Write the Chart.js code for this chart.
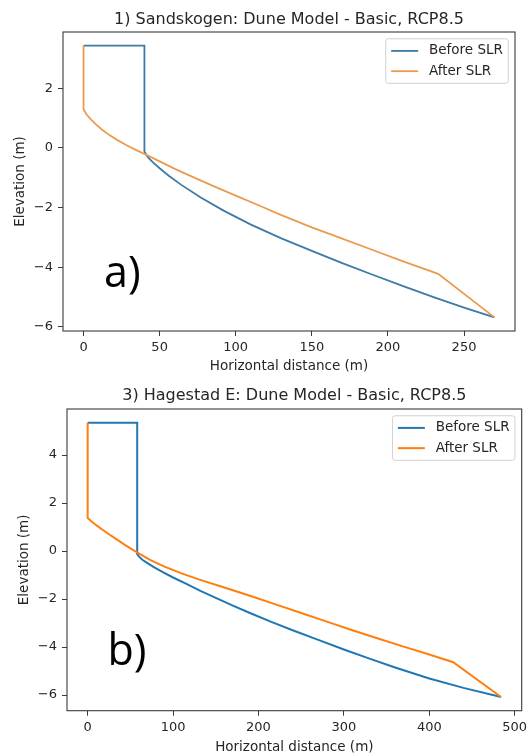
<!DOCTYPE html>
<html><head><meta charset="utf-8">
<script src="https://cdn.jsdelivr.net/npm/chart.js@4/dist/chart.umd.min.js"></script>
<style>
html,body{margin:0;padding:0;background:#fff;}
#wrap{position:relative;width:532px;height:756px;overflow:hidden;background:#fff;}
canvas{position:absolute;left:0;}
</style></head><body>
<div id="wrap">
<canvas id="cA" width="532" height="376" style="top:0px"></canvas>
<canvas id="cB" width="532" height="380" style="top:376px"></canvas>
</div>
<script>
// ---------- data ----------
const seriesLabels = ['Before SLR', 'After SLR'];

const titleA = '1) Sandskogen: Dune Model - Basic, RCP8.5';
const xTicksA = [0, 50, 100, 150, 200, 250];
const yTicksA = [-6, -4, -2, 0, 2];
const beforeA_x = [0, 40, 40, 41, 43, 46, 50, 56, 64, 77, 92, 110, 130, 150, 170, 190, 210, 230, 250, 270];
const beforeA_y = [3.43, 3.43, -0.12, -0.22, -0.35, -0.5, -0.68, -0.93, -1.23, -1.66, -2.1, -2.57, -3.03, -3.45, -3.86, -4.25, -4.63, -5.0, -5.35, -5.68];
const afterA_x = [0, 0, 2, 5, 8, 12, 17, 22, 28, 35, 42, 50, 60, 72, 85, 100, 115, 130, 150, 170, 190, 210, 233, 270];
const afterA_y = [3.43, 1.3, 1.12, 0.95, 0.8, 0.62, 0.43, 0.27, 0.1, -0.08, -0.25, -0.45, -0.7, -0.98, -1.27, -1.6, -1.92, -2.25, -2.66, -3.04, -3.42, -3.8, -4.22, -5.68];

const titleB = '3) Hagestad E: Dune Model - Basic, RCP8.5';
const xTicksB = [0, 100, 200, 300, 400, 500];
const yTicksB = [-6, -4, -2, 0, 2, 4];
const beforeB_x = [0, 58, 58, 60, 64, 70, 78, 88, 100, 115, 132, 150, 170, 190, 215, 240, 270, 300, 330, 360, 400, 440, 484];
const beforeB_y = [5.35, 5.35, -0.13, -0.22, -0.36, -0.5, -0.68, -0.88, -1.1, -1.36, -1.66, -1.95, -2.27, -2.58, -2.95, -3.3, -3.7, -4.1, -4.48, -4.85, -5.31, -5.7, -6.08];
const afterB_x = [0, 0, 5, 10, 17, 25, 34, 44, 53, 62, 73, 90, 110, 130, 160, 190, 220, 250, 280, 310, 340, 370, 400, 428, 484];
const afterB_y = [5.35, 1.38, 1.22, 1.08, 0.9, 0.7, 0.49, 0.25, 0.05, -0.14, -0.37, -0.65, -0.93, -1.18, -1.52, -1.86, -2.22, -2.58, -2.94, -3.3, -3.64, -3.98, -4.31, -4.63, -6.08];

// ---------- helpers ----------
const FONT = '"DejaVu Sans", sans-serif';
const TXT = '#262626';
const pts = (xs, ys) => xs.map((x, i) => ({x: x, y: ys[i]}));
const minus = v => (v < 0 ? '\u2212' : '') + Math.abs(v);
function range(arrs, m) {
  const all = [].concat(...arrs);
  const lo = Math.min(...all), hi = Math.max(...all), d = hi - lo;
  return [lo - m * d, hi + m * d];
}

const framePlugin = {
  id: 'mplFrame',
  afterDatasetsDraw(chart, args, opts) {
    const a = chart.chartArea, ctx = chart.ctx;
    ctx.save();
    ctx.strokeStyle = '#3a3a3a';
    ctx.lineWidth = 1.1;
    ctx.strokeRect(a.left, a.top, a.right - a.left, a.bottom - a.top);
    if (opts && opts.title) {
      ctx.font = '16px ' + FONT;
      ctx.fillStyle = TXT;
      ctx.textAlign = 'center';
      ctx.textBaseline = 'middle';
      ctx.fillText(opts.title, (a.left + a.right) / 2, a.top - opts.dy);
    }
    ctx.restore();
  }
};

const legendPlugin = {
  id: 'mplLegend',
  afterDraw(chart) {
    const a = chart.chartArea, ctx = chart.ctx;
    const fs = 13.5;
    const ds = chart.data.datasets;
    ctx.save();
    ctx.font = fs + 'px ' + FONT;
    const tw = Math.max(...ds.map(d => ctx.measureText(d.label).width));
    const pad = 0.4 * fs, hl = 2 * fs, htp = 0.8 * fs, rowH = fs, ls = 0.5 * fs;
    const w = pad + hl + htp + tw + pad;
    const h = 2 * pad + ds.length * rowH + (ds.length - 1) * ls;
    const x0 = a.right - 0.5 * fs - w, y0 = a.top + 0.5 * fs;
    const r = 0.2 * fs;
    ctx.beginPath();
    ctx.moveTo(x0 + r, y0);
    ctx.lineTo(x0 + w - r, y0); ctx.quadraticCurveTo(x0 + w, y0, x0 + w, y0 + r);
    ctx.lineTo(x0 + w, y0 + h - r); ctx.quadraticCurveTo(x0 + w, y0 + h, x0 + w - r, y0 + h);
    ctx.lineTo(x0 + r, y0 + h); ctx.quadraticCurveTo(x0, y0 + h, x0, y0 + h - r);
    ctx.lineTo(x0, y0 + r); ctx.quadraticCurveTo(x0, y0, x0 + r, y0);
    ctx.closePath();
    ctx.fillStyle = 'rgba(255,255,255,0.8)';
    ctx.fill();
    ctx.strokeStyle = '#d0d0d0';
    ctx.lineWidth = 1;
    ctx.stroke();
    ds.forEach((d, i) => {
      const cy = y0 + pad + rowH / 2 + i * (rowH + ls);
      ctx.strokeStyle = d.borderColor;
      ctx.lineWidth = d.borderWidth;
      ctx.beginPath();
      ctx.moveTo(x0 + pad, cy); ctx.lineTo(x0 + pad + hl, cy);
      ctx.stroke();
      ctx.fillStyle = TXT;
      ctx.textBaseline = 'middle';
      ctx.textAlign = 'left';
      ctx.fillText(d.label, x0 + pad + hl + htp, cy);
    });
    ctx.restore();
  }
};

const panelPlugin = {
  id: 'panelLabel',
  afterDraw(chart, args, opts) {
    if (!opts || !opts.text) return;
    const ctx = chart.ctx;
    ctx.save();
    ctx.font = '43px "Open Sans", "Noto Sans", sans-serif';
    ctx.fillStyle = '#000';
    ctx.textAlign = 'left';
    ctx.textBaseline = 'alphabetic';
    ctx.fillText(opts.text, opts.x, opts.y);
    ctx.restore();
  }
};

function makeChart(id, cfg) {
  const xr = range([cfg.bx, cfg.ax], 0.05);
  const yr = range([cfg.by, cfg.ay], 0.05);
  const tickFont = {family: FONT, size: 13};
  const labFont = {family: FONT, size: 13.5};
  return new Chart(document.getElementById(id), {
    type: 'scatter',
    data: {
      datasets: [
        {label: seriesLabels[0], data: pts(cfg.bx, cfg.by), showLine: true, borderColor: cfg.c1,
         borderWidth: cfg.lw, pointRadius: 0, pointHoverRadius: 0, tension: 0, fill: false, order: 1},
        {label: seriesLabels[1], data: pts(cfg.ax, cfg.ay), showLine: true, borderColor: cfg.c2,
         borderWidth: cfg.lw, pointRadius: 0, pointHoverRadius: 0, tension: 0, fill: false, order: 0}
      ]
    },
    options: {
      responsive: false,
      animation: false,
      events: [],
      layout: {padding: {left: 0, right: cfg.padR, top: cfg.padT, bottom: 0}},
      plugins: {
        legend: {display: false},
        tooltip: {enabled: false},
        title: {display: false},
        mplFrame: {title: cfg.title, dy: cfg.tdy},
        panelLabel: {text: cfg.panel, x: cfg.px, y: cfg.py}
      },
      scales: {
        x: {
          type: 'linear', min: xr[0], max: xr[1],
          afterBuildTicks: s => { s.ticks = cfg.xt.map(v => ({value: v})); },
          afterFit: s => { s.height = cfg.xh; },
          grid: {display: true, drawOnChartArea: false, drawTicks: true, tickLength: 5, color: '#3a3a3a', tickWidth: 1},
          border: {display: false},
          ticks: {font: tickFont, color: TXT, padding: 4, maxRotation: 0, autoSkip: false, callback: minus},
          title: {display: true, text: 'Horizontal distance (m)', color: TXT, font: labFont,
                  padding: {top: 0, bottom: cfg.xtp}}
        },
        y: {
          type: 'linear', min: yr[0], max: yr[1],
          afterBuildTicks: s => { s.ticks = cfg.yt.map(v => ({value: v})); },
          afterFit: s => { s.width = cfg.yw; },
          grid: {display: true, drawOnChartArea: false, drawTicks: true, tickLength: 5, color: '#3a3a3a', tickWidth: 1},
          border: {display: false},
          ticks: {font: tickFont, color: TXT, padding: 5, autoSkip: false, callback: minus},
          title: {display: true, text: 'Elevation (m)', color: TXT, font: labFont,
                  padding: {top: cfg.ytp, bottom: 0}}
        }
      }
    },
    plugins: [framePlugin, legendPlugin, panelPlugin]
  });
}

makeChart('cA', {
  title: titleA, bx: beforeA_x, by: beforeA_y, ax: afterA_x, ay: afterA_y, xt: xTicksA, yt: yTicksA,
  c1: '#3d7ba6', c2: '#eb9b4f', lw: 1.8, padR: 17, padT: 32, tdy: 12, xh: 45, xtp: 1.2, yw: 63, ytp: 11.9,
  panel: 'a)', px: 104, py: 287
});
makeChart('cB', {
  title: titleB, bx: beforeB_x, by: beforeB_y, ax: afterB_x, ay: afterB_y, xt: xTicksB, yt: yTicksB,
  c1: '#1f77b4', c2: '#ff7f0e', lw: 2, padR: 10.3, padT: 33, tdy: 13, xh: 45.3, xtp: 0.9, yw: 67, ytp: 16.4,
  panel: 'b)', px: 107.5, py: 289
});
</script>
</body></html>
